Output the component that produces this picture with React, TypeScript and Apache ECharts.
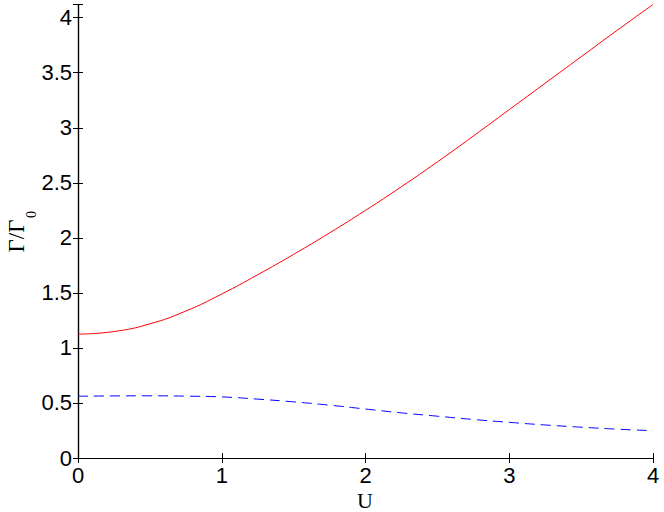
import React, { useEffect, useRef } from "react";
import * as echarts from "echarts";

const uValues = [0, 0.25, 0.5, 0.75, 1, 1.25, 1.5, 1.75, 2, 2.25, 2.5, 2.75, 3, 3.25, 3.5, 3.75, 4];
const gammaSolid = [1.125, 1.149, 1.219, 1.335, 1.49, 1.665, 1.85, 2.045, 2.25, 2.465, 2.69, 2.925, 3.165, 3.405, 3.645, 3.885, 4.12];
const gammaDashed = [0.561, 0.564, 0.565, 0.562, 0.555, 0.535, 0.51, 0.48, 0.445, 0.41, 0.38, 0.35, 0.324, 0.3, 0.28, 0.262, 0.248];

const xName = "U";
const yNameMain = "Γ/Γ";
const yNameSub = "0";

const SANS = "Liberation Sans, Arial, Helvetica, sans-serif";
const SERIF = "Liberation Serif, Times New Roman, serif";

export default function App() {
  const ref = useRef<HTMLDivElement>(null);
  useEffect(() => {
    if (!ref.current) return;
    const chart = echarts.init(ref.current, null, { renderer: "svg" });
    const tickStyle = { show: true, inside: true, length: 5, lineStyle: { color: "#000", width: 1 } };
    const lineStyle = { show: true, lineStyle: { color: "#000", width: 1.2 } };
    const fmt = (v: number) => {
      const r = Math.round(v * 2) / 2;
      if (Math.abs(r - v) > 1e-6) return "";
      return String(r);
    };
    chart.setOption({
      animation: false,
      backgroundColor: "#fff",
      grid: { left: 78, right: 11, top: 4.5, bottom: 54, containLabel: false, outerBoundsMode: "none" },
      graphic: [
        {
          type: "text",
          x: 365,
          y: 500,
          style: { text: xName, fontFamily: SERIF, fontSize: 22, fill: "#000", align: "center", verticalAlign: "middle" },
        },
        {
          type: "text",
          x: 16,
          y: 236,
          rotation: Math.PI / 2,
          style: { text: yNameMain, fontFamily: SERIF, fontSize: 23, fill: "#000", align: "center", verticalAlign: "middle" },
        },
        {
          type: "text",
          x: 31,
          y: 214.5,
          rotation: Math.PI / 2,
          style: { text: yNameSub, fontFamily: SERIF, fontSize: 14, fill: "#000", align: "center", verticalAlign: "middle" },
        },
      ],
      xAxis: [
        {
          type: "value",
          min: 0,
          max: 4,
          interval: 1,
          position: "bottom",
          axisLine: lineStyle,
          axisTick: tickStyle,
          splitLine: { show: false },
          axisLabel: { color: "#000", fontFamily: SANS, fontSize: 22, margin: 6 },
        },
        {
          type: "value",
          min: 0,
          max: 4,
          interval: 1,
          position: "top",
          axisLine: lineStyle,
          axisTick: tickStyle,
          splitLine: { show: false },
          axisLabel: { show: false },
        },
      ],
      yAxis: [
        {
          type: "value",
          min: 0,
          max: 4.12,
          interval: 0.5,
          position: "left",
          axisLine: lineStyle,
          axisTick: tickStyle,
          splitLine: { show: false },
          axisLabel: { color: "#000", fontFamily: SANS, fontSize: 22, margin: 6, formatter: fmt },
        },
        {
          type: "value",
          min: 0,
          max: 4.12,
          interval: 0.5,
          position: "right",
          axisLine: lineStyle,
          axisTick: tickStyle,
          splitLine: { show: false },
          axisLabel: { show: false },
        },
      ],
      series: [
        {
          type: "line",
          data: uValues.map((u, i) => [u, gammaSolid[i]]),
          smooth: true,
          showSymbol: false,
          lineStyle: { color: "#ff0000", width: 1 },
          itemStyle: { color: "#ff0000" },
        },
        {
          type: "line",
          data: uValues.map((u, i) => [u, gammaDashed[i]]),
          smooth: true,
          showSymbol: false,
          lineStyle: { color: "#0000ff", width: 1, type: [10, 6] },
          itemStyle: { color: "#0000ff" },
        },
      ],
    });
    return () => chart.dispose();
  }, []);
  return <div ref={ref} style={{ width: 664, height: 512, position: "absolute", left: 0, top: 0 }} />;
}
